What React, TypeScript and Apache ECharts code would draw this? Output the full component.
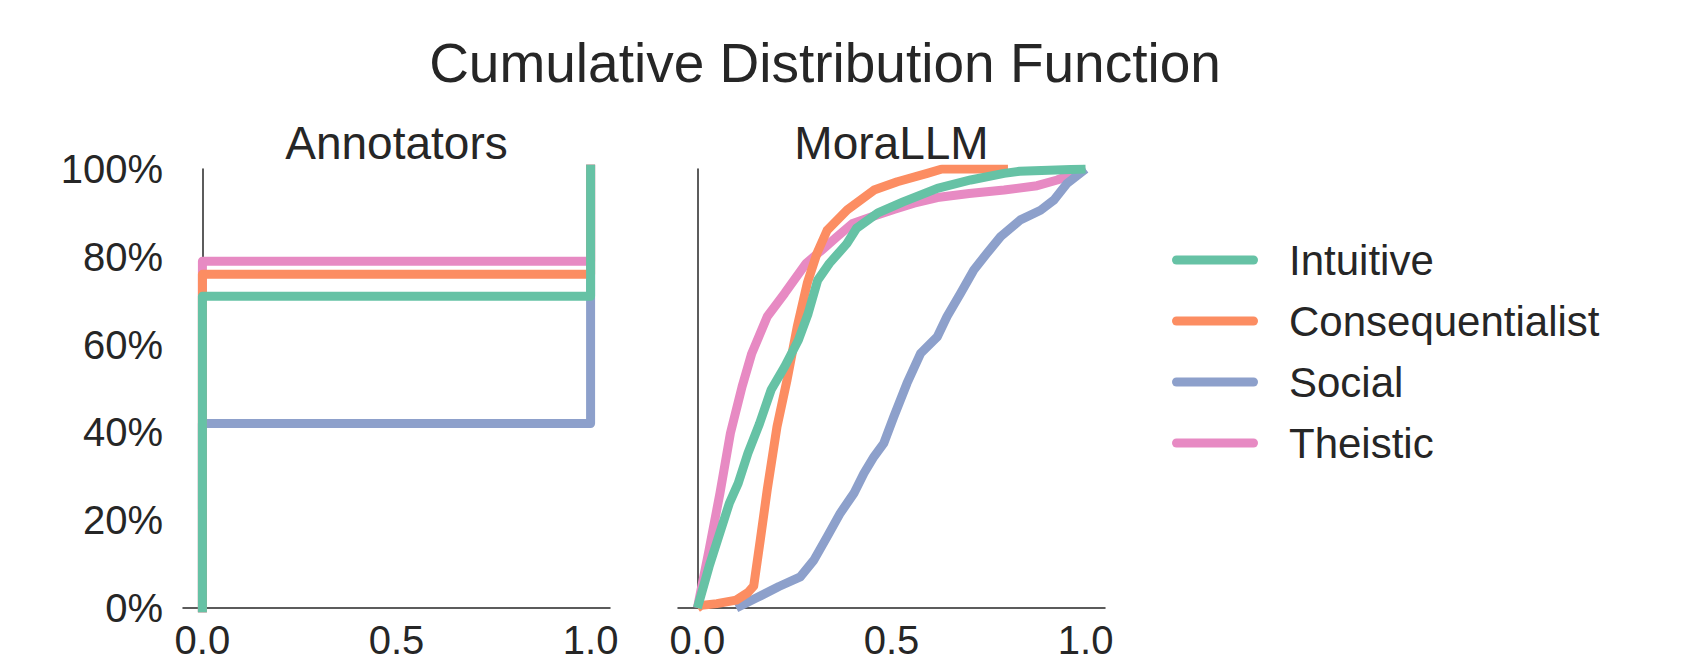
import React, { useEffect, useRef } from "react";
import * as echarts from "echarts";

const FONT = '"Liberation Sans", Arial, Helvetica, sans-serif';
const TEXT = "#262626";

const names = ["Intuitive", "Consequentialist", "Social", "Theistic"];
const colors: Record<string, string> = {
  Intuitive: "#66c2a5",
  Consequentialist: "#fc8d62",
  Social: "#8da0cb",
  Theistic: "#e78ac3",
};

// Annotators: ECDF of values in {0, 1}
const annotatorX = [0, 0, 1];
const annotatorShareAtZero: Record<string, number> = {
  Intuitive: 0.71,
  Consequentialist: 0.76,
  Social: 0.42,
  Theistic: 0.79,
};

// MoraLLM ECDFs (x = score, y = cumulative share)
const intuitiveX = [0.0, 0.03, 0.052, 0.082, 0.105, 0.13, 0.16, 0.19, 0.225, 0.26, 0.285, 0.31, 0.34, 0.385, 0.41, 0.465, 0.53, 0.618, 0.704, 0.79, 0.83, 1.0];
const intuitiveY = [0.0, 0.094, 0.155, 0.238, 0.284, 0.352, 0.42, 0.497, 0.55, 0.61, 0.67, 0.747, 0.785, 0.83, 0.865, 0.9, 0.925, 0.956, 0.975, 0.99, 0.995, 1.0];

const consequentialistX = [0.0, 0.01, 0.05, 0.1, 0.13, 0.145, 0.162, 0.18, 0.205, 0.231, 0.257, 0.283, 0.308, 0.334, 0.386, 0.455, 0.515, 0.592, 0.63, 0.8];
const consequentialistY = [0.0, 0.006, 0.01, 0.018, 0.035, 0.05, 0.155, 0.27, 0.413, 0.52, 0.64, 0.74, 0.808, 0.86, 0.907, 0.952, 0.971, 0.99, 1.0, 1.0];

const socialX = [0.1, 0.15, 0.21, 0.265, 0.3, 0.334, 0.368, 0.403, 0.429, 0.455, 0.48, 0.506, 0.54, 0.575, 0.618, 0.643, 0.678, 0.712, 0.746, 0.781, 0.832, 0.884, 0.918, 0.952, 1.0];
const socialY = [0.0, 0.022, 0.049, 0.071, 0.109, 0.162, 0.216, 0.261, 0.307, 0.345, 0.375, 0.436, 0.512, 0.58, 0.618, 0.664, 0.717, 0.77, 0.808, 0.846, 0.884, 0.906, 0.929, 0.967, 1.0];

const theisticX = [0.0, 0.03, 0.058, 0.085, 0.115, 0.14, 0.18, 0.225, 0.28, 0.32, 0.36, 0.4, 0.455, 0.506, 0.558, 0.618, 0.7, 0.79, 0.875, 0.927, 1.0];
const theisticY = [0.0, 0.132, 0.261, 0.398, 0.504, 0.58, 0.664, 0.717, 0.785, 0.815, 0.846, 0.876, 0.893, 0.908, 0.922, 0.935, 0.944, 0.952, 0.962, 0.975, 1.0];

const moraX: Record<string, number[]> = {
  Intuitive: intuitiveX,
  Consequentialist: consequentialistX,
  Social: socialX,
  Theistic: theisticX,
};
const moraY: Record<string, number[]> = {
  Intuitive: intuitiveY,
  Consequentialist: consequentialistY,
  Social: socialY,
  Theistic: theisticY,
};

const xTicks = [0, 0.5, 1];
const yTicks = [0, 0.2, 0.4, 0.6, 0.8, 1];

const mainTitle = "Cumulative Distribution Function";
const panelTitles = ["Annotators", "MoraLLM"];

export default function App() {
  const ref = useRef<HTMLDivElement>(null);

  useEffect(() => {
    document.body.style.margin = "0";
    if (!ref.current) return;
    const chart = echarts.init(ref.current, undefined, { renderer: "svg" });

    const gridW = 427;
    const gridH = 439;
    const grids = [
      { left: 183, top: 169, width: gridW, height: gridH },
      { left: 678, top: 169, width: gridW, height: gridH },
    ];

    const axisLine = { show: true, lineStyle: { color: TEXT, width: 1.5 } };

    const xAxes = grids.map((_, i) => ({
      type: "value",
      gridIndex: i,
      min: -0.05,
      max: 1.05,
      axisLine,
      axisTick: { show: false },
      splitLine: { show: false },
      axisLabel: {
        customValues: xTicks,
        formatter: (v: number) => v.toFixed(1),
        fontSize: 40,
        fontFamily: FONT,
        color: TEXT,
        margin: 12,
      },
    }));

    const yAxes = grids.map((_, i) => ({
      type: "value",
      gridIndex: i,
      min: 0,
      max: 1,
      interval: 0.2,
      axisLine,
      axisTick: { show: false },
      splitLine: { show: false },
      axisLabel: {
        show: i === 0,
        customValues: yTicks,
        formatter: (v: number) => Math.round(v * 100) + "%",
        fontSize: 40,
        fontFamily: FONT,
        color: TEXT,
        margin: 20,
      },
    }));

    // draw order: last is on top (Intuitive on top)
    const drawOrder = [...names].reverse();
    const series: any[] = [];
    drawOrder.forEach((name) => {
      const p = annotatorShareAtZero[name];
      const ys = [0, p, 1];
      series.push({
        name,
        type: "line",
        xAxisIndex: 0,
        yAxisIndex: 0,
        step: "end",
        symbol: "none",
        clip: true,
        data: annotatorX.map((x, k) => [x, ys[k]]),
        lineStyle: { color: colors[name], width: 9, cap: "square", join: "round" },
        itemStyle: { color: colors[name] },
      });
    });
    drawOrder.forEach((name) => {
      const xs = moraX[name];
      const ys = moraY[name];
      series.push({
        name,
        type: "line",
        xAxisIndex: 1,
        yAxisIndex: 1,
        symbol: "none",
        clip: true,
        data: xs.map((x, k) => [x, ys[k]]),
        lineStyle: { color: colors[name], width: 9, cap: "butt", join: "round" },
        itemStyle: { color: colors[name] },
      });
    });

    const capsule = "path://M4.5,0 L81.5,0 A4.5,4.5 0 0 1 81.5,9 L4.5,9 A4.5,4.5 0 0 1 4.5,0 Z";

    chart.setOption({
      animation: false,
      backgroundColor: "#ffffff",
      grid: grids,
      xAxis: xAxes,
      yAxis: yAxes,
      legend: {
        orient: "vertical",
        left: 1167,
        top: 234,
        data: names,
        icon: capsule,
        itemWidth: 86,
        itemHeight: 9,
        itemGap: 19,
        selectedMode: false,
        textStyle: {
          fontSize: 42,
          lineHeight: 42,
          fontFamily: FONT,
          color: TEXT,
          padding: [0, 0, 0, 26],
        },
      },
      graphic: [
        {
          type: "text",
          x: 825,
          y: 63,
          style: {
            text: mainTitle,
            fill: TEXT,
            fontSize: 55,
            fontFamily: FONT,
            align: "center",
            verticalAlign: "middle",
          },
        },
        {
          type: "text",
          x: 396.5,
          y: 142.5,
          style: {
            text: panelTitles[0],
            fill: TEXT,
            fontSize: 46,
            fontFamily: FONT,
            align: "center",
            verticalAlign: "middle",
          },
        },
        {
          type: "text",
          x: 891.5,
          y: 142.5,
          style: {
            text: panelTitles[1],
            fill: TEXT,
            fontSize: 46,
            fontFamily: FONT,
            align: "center",
            verticalAlign: "middle",
          },
        },
      ],
      series,
    });

    return () => {
      chart.dispose();
    };
  }, []);

  return <div ref={ref} style={{ width: 1687, height: 664 }} />;
}
